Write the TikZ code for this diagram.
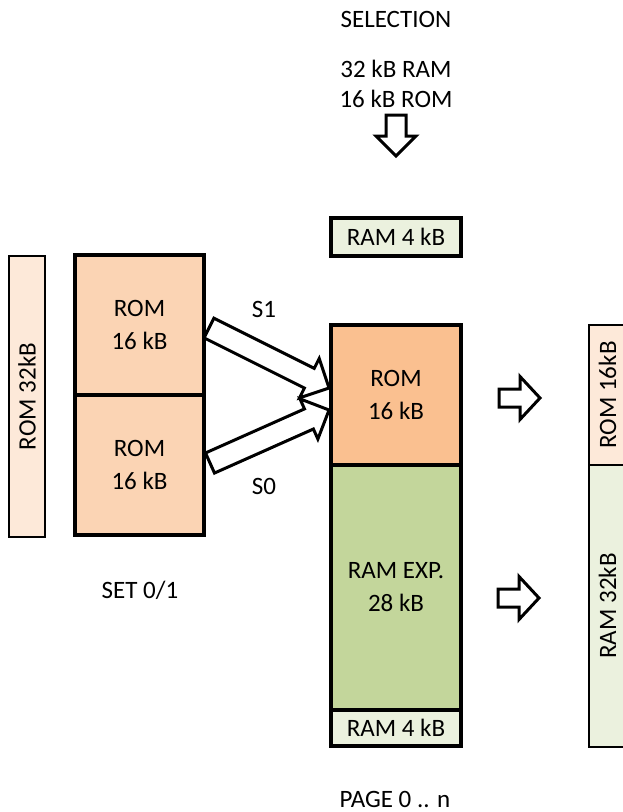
\documentclass[tikz,border=0pt]{standalone}
\usepackage{fontspec}
\setmainfont{Carlito}
\definecolor{romlight}{HTML}{FDE9D9}
\definecolor{rompeach}{HTML}{FBD4B4}
\definecolor{romdark}{HTML}{FAC090}
\definecolor{ramlight}{HTML}{EBF1DE}
\definecolor{ramgreen}{HTML}{C3D69B}
% block arrow: tail point, canvas angle, length, shaft half width, head half width, head length
\newcommand{\myblockarrow}[6]{%
  \draw[barrowline, shift={(#1)}, rotate=#2]
    (0,-#4) -- (#3-#6,-#4) -- (#3-#6,-#5) -- (#3,0) -- (#3-#6,#5) -- (#3-#6,#4) -- (0,#4) -- cycle;}
\begin{document}
\begin{tikzpicture}[x=1pt,y=-1pt,
  txt/.style={font=\fontsize{25}{30}\selectfont, text=black, align=center, inner sep=0pt},
  blk/.style={draw=black, line width=3.5pt, inner sep=0pt, align=center, text=black,
    font=\fontsize{25}{33}\selectfont},
  strip/.style={draw=black, line width=2pt, inner sep=0pt},
  rtxt/.style={txt, rotate=90},
  barrowline/.style={draw=black, fill=white, line width=3pt, line join=miter},
]
\useasboundingbox (0,0) rectangle (623,812);
\clip (0,0) rectangle (623,812);

% top texts
\node[txt] (sel) at (396,19) {SELECTION};
\node[txt] (selsize) at (396,84) {32 kB RAM\\16 kB ROM};
\coordinate (downtail) at (396,115);
\myblockarrow{downtail}{-90}{41}{10}{20}{20}

% left strip
\node[strip, fill=romlight, minimum width=36pt, minimum height=281pt] (lstrip) at (27,396.5) {};
\node[rtxt] (lstriptxt) at (lstrip.center) {ROM 32kB};

% left ROM blocks
\node[blk, fill=rompeach, minimum width=129pt, minimum height=140pt] (romA) at (139.5,325) {ROM\\16 kB};
\node[blk, fill=rompeach, minimum width=129pt, minimum height=140pt] (romB) at (139.5,465) {ROM\\16 kB};
\node[txt] (set) at (140,590) {SET 0/1};

% middle column
\node[blk, fill=ramlight, minimum width=130pt, minimum height=38pt] (ramtop) at (396,237) {RAM 4 kB};
\node[blk, fill=romdark, minimum width=130pt, minimum height=140pt] (midrom) at (396,395) {ROM\\16 kB};
\node[blk, fill=ramgreen, minimum width=130pt, minimum height=245pt] (ramexp) at (396,587.5) {RAM EXP.\\28 kB};
\node[blk, fill=ramlight, minimum width=130pt, minimum height=36pt] (rambot) at (396,728) {RAM 4 kB};
\node[txt] (page) at (395,799) {PAGE 0 .. n};

% S1 / S0 arrows from the left blocks to the middle ROM
\coordinate (s1tail) at (209,328);
\coordinate (s0tail) at (210,463);
\myblockarrow{s1tail}{-26.57}{134.2}{11}{22}{22}
\myblockarrow{s0tail}{24.0}{130.3}{11}{22}{22}
\node[txt] (s1) at (264,309) {S1};
\node[txt] (s0) at (264,486) {S0};

% right arrows
\coordinate (r1tail) at (499,398);
\coordinate (r2tail) at (498,598);
\myblockarrow{r1tail}{0}{41}{9}{21.5}{20}
\myblockarrow{r2tail}{0}{41}{9}{21.5}{20}

% right strips
\node[strip, fill=romlight, minimum width=37pt, minimum height=140pt] (rstripA) at (607.5,395) {};
\node[rtxt] (rstripAtxt) at (rstripA.center) {ROM 16kB};
\node[strip, fill=ramlight, minimum width=37pt, minimum height=282pt] (rstripB) at (607.5,606) {};
\node[rtxt] (rstripBtxt) at (rstripB.center) {RAM 32kB};
\end{tikzpicture}
\end{document}
